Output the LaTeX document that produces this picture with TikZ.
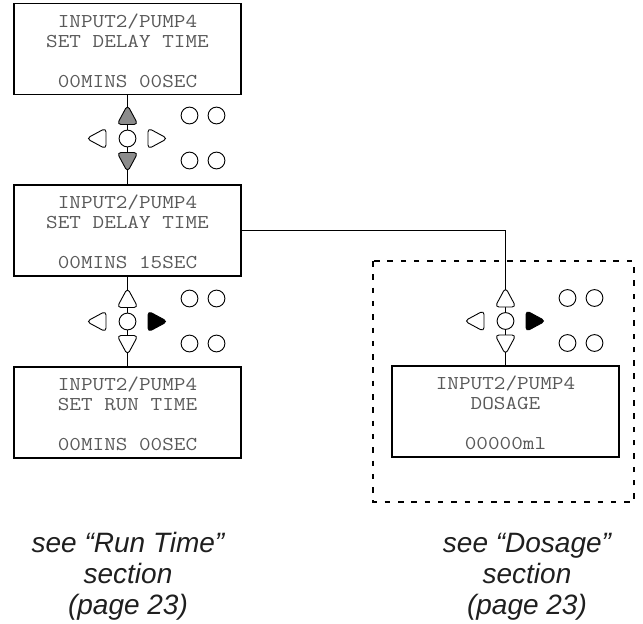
\documentclass[tikz,border=0pt]{standalone}
\usepackage{fontspec}
\newfontfamily\notefont{Liberation Sans}
\newfontfamily\lcdfont[FakeStretch=1.15]{Latin Modern Mono}
\usetikzlibrary{calc}
\tikzset{
  lcd/.style={draw, line width=1.1pt, minimum width=227pt, minimum height=91pt, inner sep=0pt},
  lcdtxt/.style={anchor=base, inner sep=0pt, text=black!65, font=\fontsize{19.6}{20}\selectfont\lcdfont},
  btn/.style={draw, circle, minimum size=16.8pt, inner sep=0pt, line width=0.9pt, fill=white},
  arrowkey/.style={draw, line width=0.9pt, rounded corners=4pt},
  link/.style={line width=1.1pt},
  notetxt/.style={anchor=base, inner sep=0pt, text=black!88, font=\notefont\itshape\fontsize{28}{30}\selectfont},
  frame/.style={line width=2.8pt, dash pattern=on 5.5pt off 7.8pt}
}
\newcommand\keypad[5]{%
  \draw[arrowkey, fill=#4] (#2-10.5,#3-14) -- (#2+10.5,#3-14) -- (#2,#3-33.5) -- cycle;
  \draw[arrowkey, fill=#4] (#2-10.5,#3+14) -- (#2+10.5,#3+14) -- (#2,#3+33.5) -- cycle;
  \draw[arrowkey, fill=white] (#2-21.5,#3-10.5) -- (#2-21.5,#3+10.5) -- (#2-41,#3) -- cycle;
  \draw[arrowkey, fill=#5] (#2+20.5,#3-10.5) -- (#2+20.5,#3+10.5) -- (#2+40,#3) -- cycle;
  \node[btn] (#1c) at (#2,#3) {};
  \node[btn] (#1a) at (#2+62,#3-23) {};
  \node[btn] (#1b) at (#2+89,#3-23) {};
  \node[btn] (#1d) at (#2+62,#3+22) {};
  \node[btn] (#1e) at (#2+89,#3+22) {};
}
\begin{document}
\begin{tikzpicture}[x=1pt, y=-1pt]
\useasboundingbox (0,0) rectangle (643,624);

% LCD boxes
\node[lcd] (b1) at (127.5,49) {};
\node[lcd] (b2) at (127.5,230.5) {};
\node[lcd] (b3) at (127.5,412.5) {};
\node[lcd] (b4) at (505.5,411.5) {};

% texts
\node[lcdtxt] (b1l1) at (127.5,27) {INPUT2/PUMP4};
\node[lcdtxt] (b1l2) at (127.5,47) {SET DELAY TIME};
\node[lcdtxt] (b1l3) at (127.5,87) {00MINS 00SEC};
\node[lcdtxt] (b2l1) at (127.5,208) {INPUT2/PUMP4};
\node[lcdtxt] (b2l2) at (127.5,228) {SET DELAY TIME};
\node[lcdtxt] (b2l3) at (127.5,268) {00MINS 15SEC};
\node[lcdtxt] (b3l1) at (127.5,390) {INPUT2/PUMP4};
\node[lcdtxt] (b3l2) at (127.5,410) {SET RUN TIME};
\node[lcdtxt] (b3l3) at (127.5,450) {00MINS 00SEC};
\node[lcdtxt] (b4l1) at (505.5,389) {INPUT2/PUMP4};
\node[lcdtxt] (b4l2) at (505.5,409) {DOSAGE};
\node[lcdtxt] (b4l3) at (505.5,449) {00000ml};

% connectors
\draw[link] (b1.south) -- (b2.north);
\draw[link] (b2.south) -- (b3.north);
\draw[link] (b2.east) -- (b2.east -| b4.north) -- (b4.north);

% keypads
\keypad{ka}{127.5}{138.5}{black!45}{white}
\keypad{kb}{127.5}{321.5}{white}{black}
\keypad{kc}{505.5}{321}{white}{black}

% dashed frame
\draw[frame] (373,261) rectangle (634,502);

% notes
\node[notetxt] (n1a) at (128,552) {see “Run Time”};
\node[notetxt] (n1b) at (128,583) {section};
\node[notetxt] (n1c) at (128,614) {(page 23)};
\node[notetxt] (n2a) at (527,552) {see “Dosage”};
\node[notetxt] (n2b) at (527,583) {section};
\node[notetxt] (n2c) at (527,614) {(page 23)};
\end{tikzpicture}
\end{document}
